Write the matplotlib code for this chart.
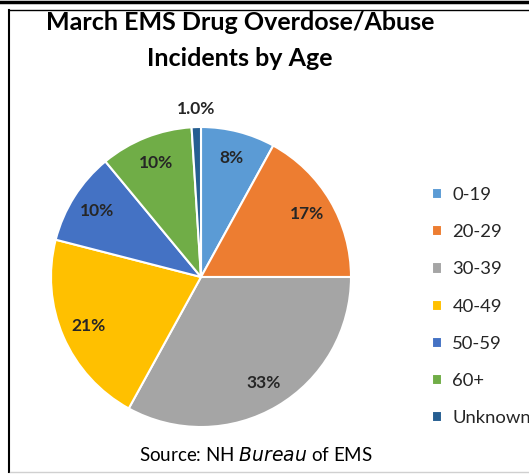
import matplotlib.pyplot as plt
import numpy as np
from matplotlib.lines import Line2D

# ---- data ----
ages = ["0-19", "20-29", "30-39", "40-49", "50-59", "60+", "Unknown"]
shares = [8, 17, 33, 21, 10, 10, 1.0]
pct_labels = ["8%", "17%", "33%", "21%", "10%", "10%", "1.0%"]
colors = ["#5B9BD5", "#ED7D31", "#A5A5A5", "#FFC000", "#4472C4", "#70AD47", "#255E91"]

plt.rcParams['font.family'] = ['Lato', 'DejaVu Sans']

W, H = 529, 474
fig = plt.figure(figsize=(W / 100, H / 100), dpi=100)

# pie axes: square, centred on the pie
cx, cy, r = 201, 277, 150
ax = fig.add_axes([(cx - r) / W, (H - cy - r) / H, 2 * r / W, 2 * r / H])
wedges, _ = ax.pie(shares, colors=colors, startangle=90, counterclock=False,
                   wedgeprops=dict(edgecolor="white", linewidth=1.5))
ax.set_xlim(-1, 1)
ax.set_ylim(-1, 1)
ax.set_aspect("equal")
ax.axis("off")

# data labels: inside for most, outside for the tiny slice
for w, lab, val in zip(wedges, pct_labels, shares):
    mid = np.deg2rad((w.theta1 + w.theta2) / 2)
    d = 1.12 if val < 2 else 0.82
    ax.text(d * np.cos(mid), d * np.sin(mid), lab, ha="center", va="center",
            fontsize=12.5, fontweight="bold", color="#262626")

# title
fig.text(240 / W, 1 - 23 / H, "March EMS Drug Overdose/Abuse", ha="center", va="center",
         fontsize=18, fontweight="bold", color="black")
fig.text(240 / W, 1 - 59 / H, "Incidents by Age", ha="center", va="center",
         fontsize=18, fontweight="bold", color="black")

# legend
fig.legend(wedges, ages, loc="upper left", bbox_to_anchor=(432 / W, 1 - 187 / H),
           frameon=False, fontsize=13.3, handlelength=0.55, handleheight=0.55,
           handletextpad=0.55, labelspacing=1.15, borderaxespad=0, borderpad=0,
           labelcolor="#262626")

# source
fig.text(256 / W, 1 - 455 / H, r"Source: NH $\it{Bureau}$ of EMS", ha="center", va="center",
         fontsize=13.5, color="black")

# frame lines
fig.add_artist(Line2D([0, 1], [1 - 1.5 / H, 1 - 1.5 / H], color="black", linewidth=2.5))
fig.add_artist(Line2D([9 / W, 1], [1 - 10 / H, 1 - 10 / H], color="black", linewidth=1))
fig.add_artist(Line2D([9 / W, 9 / W], [1 - 10 / H, 1 - 472 / H], color="black", linewidth=1.5))
fig.add_artist(Line2D([10 / W, 1], [1 - 472 / H, 1 - 472 / H], color="#D0D0D0", linewidth=1))

fig.savefig("out.png", dpi=100)
